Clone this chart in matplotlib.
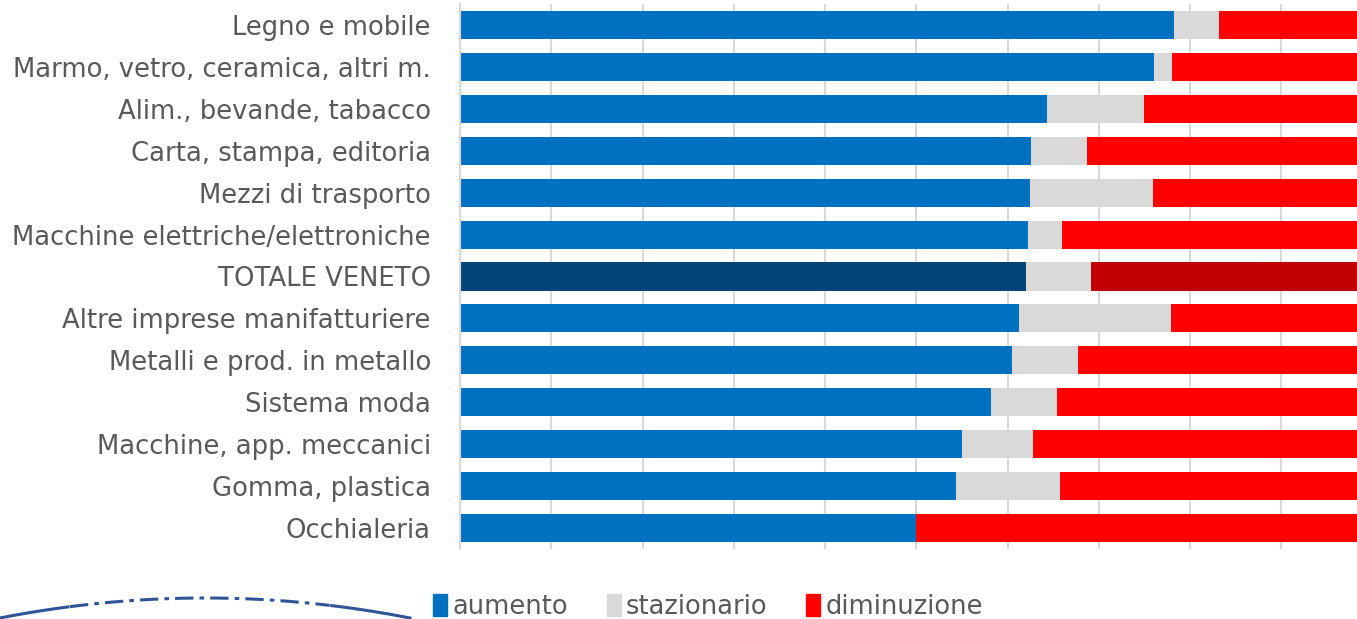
import numpy as np
import matplotlib.pyplot as plt
from matplotlib.patches import Patch

plt.rcParams['font.family'] = ['DejaVu Sans']

# settori (dall'alto verso il basso)
settori = ['Legno e mobile', 'Marmo, vetro, ceramica, altri m.', 'Alim., bevande, tabacco',
           'Carta, stampa, editoria', 'Mezzi di trasporto', 'Macchine elettriche/elettroniche',
           'TOTALE VENETO', 'Altre imprese manifatturiere', 'Metalli e prod. in metallo',
           'Sistema moda', 'Macchine, app. meccanici', 'Gomma, plastica', 'Occhialeria']

# quote percentuali
aumento = [78.3, 76.1, 64.3, 62.6, 62.5, 62.2, 62.0, 61.3, 60.5, 58.2, 55.0, 54.4, 50.0]
stazionario = [4.9, 1.9, 10.7, 6.1, 13.4, 3.8, 7.2, 16.6, 7.2, 7.2, 7.8, 11.3, 0.0]
diminuzione = [16.8, 22.0, 25.0, 31.3, 24.1, 34.0, 30.8, 22.1, 32.2, 34.5, 37.2, 34.3, 50.0]

col_aum = '#0070C0'
col_staz = '#D9D9D9'
col_dim = '#FF0000'
testo = '#595959'

fig = plt.figure(figsize=(13.57, 6.19), dpi=100)
ax = fig.add_axes([460 / 1357, 1 - 549 / 619, 912.5 / 1357, 545 / 619])

y = np.arange(len(settori))
aum = np.array(aumento)
staz = np.array(stazionario)
dim = np.array(diminuzione)

c_aum = [('#004478' if s == 'TOTALE VENETO' else col_aum) for s in settori]
c_dim = [('#C00000' if s == 'TOTALE VENETO' else col_dim) for s in settori]

ax.barh(y, aum, height=0.67, color=c_aum, zorder=2)
ax.barh(y, staz, left=aum, height=0.67, color=col_staz, zorder=2)
ax.barh(y, dim, left=aum + staz, height=0.67, color=c_dim, zorder=2)

ax.set_xlim(0, 100)
ax.set_ylim(len(settori) - 0.5, -0.5)
ax.set_xticks(np.arange(0, 101, 10))
ax.xaxis.grid(True, color='#D9D9D9', linewidth=1.5, zorder=0)
ax.tick_params(axis='x', length=0, labelbottom=False)
ax.tick_params(axis='y', length=0, pad=21, labelsize=18.6, labelcolor=testo)
ax.set_yticks(y)
ax.set_yticklabels(settori)
for s in ['top', 'right', 'bottom']:
    ax.spines[s].set_visible(False)
ax.spines['left'].set_color('#D9D9D9')
ax.spines['left'].set_linewidth(1.5)

# legenda
handles = [Patch(color=col_aum, label='aumento'),
           Patch(color=col_staz, label='stazionario'),
           Patch(color=col_dim, label='diminuzione')]
fig.legend(handles=handles, loc='center', bbox_to_anchor=(708 / 1357, 1 - 607 / 619),
           ncol=3, frameon=False, fontsize=18.5, labelcolor=testo,
           handlelength=0.55, handleheight=0.9, handletextpad=0.2, columnspacing=1.5)

# arco decorativo in basso a sinistra
xs = np.linspace(0, 410, 200)
ys = 598 + 0.000476 * (xs - 205) ** 2
fx = xs / 1357
fy = 1 - ys / 619
blu = '#2F5597'
m1 = xs <= 70
m2 = (xs >= 70) & (xs <= 330)
m3 = xs >= 330
fig.add_artist(plt.Line2D(fx[m1], fy[m1], color=blu, lw=2.2))
fig.add_artist(plt.Line2D(fx[m2], fy[m2], color=blu, lw=2.2, linestyle=(0, (6, 2, 1.5, 2))))
fig.add_artist(plt.Line2D(fx[m3], fy[m3], color=blu, lw=2.2))

fig.savefig('out.png', dpi=100)
